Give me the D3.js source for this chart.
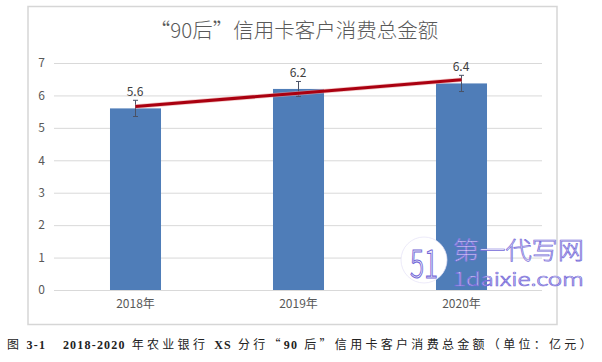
<!DOCTYPE html>
<html lang="zh">
<head>
<meta charset="utf-8">
<title>90后信用卡客户消费总金额</title>
<script src="https://cdn.jsdelivr.net/npm/d3@7"></script>
<style>
body { margin: 0; background: #fff; }
svg { display: block; }
text { font-family: "Noto Sans CJK SC", "Liberation Sans", sans-serif; }
</style>
</head>
<body></body>
<script type="text/javascript">

var years = ["2018年", "2019年", "2020年"];
var amounts = [5.6, 6.2, 6.37];
var amountLabels = ["5.6", "6.2", "6.4"];
var errors = [0.25, 0.23, 0.25];
var trend = [5.66, 6.07, 6.48];
var yTicks = [0, 1, 2, 3, 4, 5, 6, 7];
var captionParts = [
	["图", 0], [" 3-1", 1], ["    ", 1], ["2018-2020", 1], [" 年农业银行 ", 0], ["XS", 1], [" 分行“", 0],
	["90", 1], [" 后”信用卡客户消费总金额（单位：亿元）", 0]
];

var width = 602, height = 362;

var svg = d3.select("body").append("svg")
	.attr("width", width)
	.attr("height", height);

/*********************************************************************/
// Frame

svg.append("rect")
	.attr("x", 28)
	.attr("y", 6.5)
	.attr("width", 529)
	.attr("height", 318)
	.attr("fill", "#fff")
	.attr("stroke", "#d6d6d6")
	.attr("stroke-width", 1.5);

/*********************************************************************/
// Scales

var x = d3.scaleBand()
	.domain(years)
	.range([54, 543])
	.paddingInner(0.687)
	.paddingOuter(0.3435);

var y = d3.scaleLinear()
	.domain([0, 7])
	.range([290, 63]);

/*********************************************************************/
// Axes

var yAxis = svg.append("g")
	.attr("transform", "translate(54,0)")
	.call(d3.axisLeft(y).tickValues(yTicks).tickSize(-488).tickPadding(9).tickFormat(d3.format("d")));

yAxis.select(".domain").remove();
yAxis.selectAll("line").attr("stroke", "#d9d9d9");
yAxis.selectAll("text").attr("fill", "#595959").style("font-size", "12px");

var xAxis = svg.append("g")
	.attr("transform", "translate(0,290)")
	.call(d3.axisBottom(x).tickSize(0).tickPadding(9));

xAxis.select(".domain").remove();
xAxis.selectAll("text").attr("fill", "#595959").style("font-size", "12px");

/*********************************************************************/
// Bars

svg.selectAll(".bar")
	.data(amounts)
	.enter().append("rect")
	.attr("class", "bar")
	.attr("x", function(d, i) { return x(years[i]); })
	.attr("y", function(d) { return y(d); })
	.attr("width", x.bandwidth())
	.attr("height", function(d) { return y(0) - y(d); })
	.attr("fill", "#4f7db8");

/*********************************************************************/
// Error bars

var errorGroup = svg.selectAll(".err")
	.data(amounts)
	.enter().append("g")
	.attr("class", "err")
	.attr("stroke", "#4a5266")
	.attr("stroke-width", 1);

function center(i) { return x(years[i]) + x.bandwidth() / 2; }

errorGroup.append("line")
	.attr("x1", function(d, i) { return center(i); })
	.attr("x2", function(d, i) { return center(i); })
	.attr("y1", function(d, i) { return y(d + errors[i]); })
	.attr("y2", function(d, i) { return y(d - errors[i]); });

errorGroup.append("line")
	.attr("x1", function(d, i) { return center(i) - 2.5; })
	.attr("x2", function(d, i) { return center(i) + 2.5; })
	.attr("y1", function(d, i) { return y(d + errors[i]); })
	.attr("y2", function(d, i) { return y(d + errors[i]); });

errorGroup.append("line")
	.attr("x1", function(d, i) { return center(i) - 2.5; })
	.attr("x2", function(d, i) { return center(i) + 2.5; })
	.attr("y1", function(d, i) { return y(d - errors[i]); })
	.attr("y2", function(d, i) { return y(d - errors[i]); });

/*********************************************************************/
// Trend line

var trendLine = d3.line()
	.x(function(d, i) { return center(i); })
	.y(function(d) { return y(d); });

svg.append("path")
	.attr("d", trendLine(trend))
	.attr("fill", "none")
	.attr("stroke", "#e9a0a0")
	.attr("stroke-width", 4.5)
	.attr("opacity", 0.6);

svg.append("path")
	.attr("d", trendLine(trend))
	.attr("fill", "none")
	.attr("stroke", "#aa0010")
	.attr("stroke-width", 3);

/*********************************************************************/
// Value labels

svg.selectAll(".val")
	.data(amountLabels)
	.enter().append("text")
	.attr("class", "val")
	.attr("x", function(d, i) { return center(i) - 0.5; })
	.attr("y", function(d, i) { return y(amounts[i] + errors[i]) - 4; })
	.attr("text-anchor", "middle")
	.attr("fill", "#404040")
	.style("font-size", "12px")
	.text(function(d) { return d; });

/*********************************************************************/
// Title and caption

svg.append("text")
	.attr("x", 294)
	.attr("y", 38)
	.attr("text-anchor", "middle")
	.attr("fill", "#595959")
	.style("font-size", "20.5px")
	.style("font-weight", 300)
	.text("“90后”信用卡客户消费总金额");

var caption = svg.append("text")
	.attr("x", 7)
	.attr("y", 349)
	.attr("xml:space", "preserve")
	.style("white-space", "pre")
	.attr("fill", "#222");

caption.selectAll("tspan")
	.data(captionParts)
	.enter().append("tspan")
	.style("font-family", function(d) { return d[1] ? "'Liberation Serif'" : "'Noto Sans CJK SC'"; })
	.style("font-weight", function(d) { return d[1] ? 700 : 400; })
	.style("font-size", "12px")
	.style("letter-spacing", function(d) { return d[1] ? "1.2px" : "3.3px"; })
	.text(function(d) { return d[0]; });

/*********************************************************************/
// Watermark

var mark = svg.append("g");

mark.append("circle")
	.attr("cx", 424)
	.attr("cy", 260)
	.attr("r", 23)
	.attr("fill", "#fff")
	.attr("stroke", "#e4e1f6")
	.attr("stroke-width", 0.7);

function outlineText(str, tx, ty, size, len, sw) {
	mark.append("text")
		.attr("x", tx)
		.attr("y", ty)
		.attr("textLength", len)
		.attr("lengthAdjust", "spacingAndGlyphs")
		.attr("fill", "#fff")
		.attr("stroke", "#7468d8")
		.attr("stroke-width", sw)
		.style("font-size", size + "px")
		.style("font-weight", 300)
		.text(str);
}

outlineText("51", 410, 278, 38, 28, 1.2);
outlineText("第一代写网", 453, 259, 24, 131, 0.7);
outlineText("1daixie.com", 453, 286, 19, 131, 0.7);

</script>
</html>
